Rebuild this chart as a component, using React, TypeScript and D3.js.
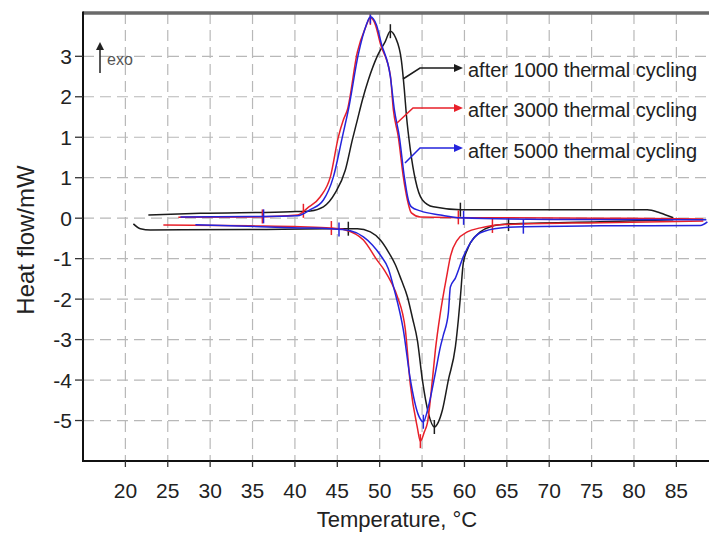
import React from 'react';
import * as d3 from 'd3';

const W = 709;
const H = 535;

const xTickValues = [20, 25, 30, 35, 40, 45, 50, 55, 60, 65, 70, 75, 80, 85];
const yTickValues = [4, 3, 2, 1, 0, -1, -2, -3, -4, -5];
const yTickLabels = ['3', '2', '1', '1', '0', '-1', '-2', '-3', '-4', '-5'];

const seriesNames = ['after 1000 thermal cycling', 'after 3000 thermal cycling', 'after 5000 thermal cycling'];
const seriesColors = ['#1c1c1c', '#e8202a', '#2424dc'];

// [Temperature °C, heat flow]
const heating1000: [number, number][] = [
  [20.94, -0.14], [21.77, -0.26], [22.95, -0.29], [34.75, -0.28], [44.18, -0.26], [47.37, -0.26],
  [48.9, -0.34], [50.08, -0.54], [51.02, -0.83], [51.85, -1.15], [52.56, -1.53], [53.27, -1.94],
  [53.86, -2.46], [54.45, -3.02], [55.04, -4.0], [55.74, -4.81], [56.45, -5.16], [56.92, -5.04],
  [57.4, -4.74], [58.1, -4.0], [58.93, -3.18], [59.28, -2.51], [59.52, -1.95], [59.87, -1.1],
  [60.34, -0.78], [60.7, -0.61], [61.88, -0.34], [63.06, -0.21], [65.42, -0.14], [76.03, -0.09],
  [84.64, -0.04],
];
const cooling1000: [number, number][] = [
  [22.71, 0.08], [28.85, 0.12], [39.46, 0.16], [41.82, 0.18], [43.36, 0.28], [44.77, 0.63],
  [45.95, 1.19], [46.78, 1.94], [47.37, 2.43], [47.96, 2.92], [48.67, 3.42], [49.73, 4.01],
  [50.67, 4.37], [51.26, 4.62], [51.85, 4.47], [52.56, 3.9], [52.91, 3.17], [53.15, 2.55],
  [53.62, 1.69], [54.21, 0.95], [55.04, 0.45], [56.33, 0.28], [59.52, 0.21], [70.13, 0.21],
  [81.58, 0.21], [83.11, 0.13], [84.64, 0.01],
];
const heating3000: [number, number][] = [
  [24.48, -0.17], [34.75, -0.19], [40.64, -0.21], [44.18, -0.24], [45.95, -0.29], [48.08, -0.54],
  [49.73, -1.05], [50.6, -1.3], [51.4, -1.6], [52.09, -1.94], [53.03, -2.76], [53.62, -4.12],
  [54.45, -5.18], [54.8, -5.51], [55.27, -5.28], [55.63, -5.06], [56.22, -3.99], [56.57, -3.26],
  [57.16, -2.34], [57.98, -1.35], [58.34, -0.95], [59.16, -0.54], [60.34, -0.34], [61.88, -0.24],
  [64.24, -0.16], [76.03, -0.11], [88.18, -0.07],
];
const cooling3000: [number, number][] = [
  [26.25, 0.02], [34.75, 0.03], [40.29, 0.08], [41.47, 0.25], [43.0, 0.53], [44.18, 1.02],
  [45.13, 2.01], [45.72, 2.43], [46.19, 2.68], [47.37, 4.11], [48.31, 4.7], [48.9, 4.95],
  [49.49, 4.78], [50.08, 4.31], [51.26, 3.52], [51.61, 2.68], [52.2, 2.01], [52.79, 1.02],
  [53.27, 0.45], [53.74, 0.13], [54.8, 0.03], [64.24, 0.01], [76.03, 0.0], [88.18, -0.02],
];
const heating5000: [number, number][] = [
  [28.26, -0.16], [35.93, -0.21], [40.64, -0.24], [44.18, -0.26], [46.54, -0.31], [48.08, -0.46],
  [49.14, -0.66], [50.08, -0.91], [51.02, -1.25], [51.7, -1.75], [52.79, -2.76], [53.62, -3.99],
  [54.56, -4.86], [55.15, -5.03], [55.74, -4.66], [56.57, -3.82], [57.16, -3.18], [57.51, -2.89],
  [58.1, -2.34], [58.34, -1.7], [58.93, -1.48], [59.87, -0.95], [60.7, -0.61], [61.88, -0.36],
  [64.24, -0.24], [66.95, -0.21], [76.03, -0.19], [87.83, -0.18], [88.66, -0.09],
];
const cooling5000: [number, number][] = [
  [26.49, 0.03], [34.75, 0.04], [40.29, 0.06], [41.82, 0.21], [43.36, 0.45], [44.54, 1.02],
  [45.6, 2.01], [46.31, 2.68], [47.49, 4.06], [48.43, 4.78], [48.9, 4.98], [49.61, 4.78],
  [50.2, 4.31], [51.26, 3.5], [51.73, 2.68], [52.32, 2.01], [52.91, 1.02], [53.38, 0.45],
  [53.74, 0.28], [54.8, 0.18], [57.16, 0.08], [59.52, 0.01], [70.13, -0.03], [88.54, -0.04],
];

const heatingCurves = [heating1000, heating3000, heating5000];
const coolingCurves = [cooling1000, cooling3000, cooling5000];

// evaluation-limit marks (temperatures)
const coolingMarks = [[51.26, 59.52], [36.16, 41.0, 48.9, 59.28], [36.3, 48.9, 59.9]];
const heatingMarks = [[46.3, 56.45, 65.2], [44.3, 54.8, 63.3], [45.2, 55.15, 66.95]];

const FONT = '"Liberation Sans", Arial, sans-serif';

function interp(data: [number, number][], t: number) {
  const i = d3.bisector((d: [number, number]) => d[0]).left(data, t);
  if (i <= 0) return data[0][1];
  if (i >= data.length) return data[data.length - 1][1];
  const a = data[i - 1], b = data[i];
  const f = (t - a[0]) / (b[0] - a[0]);
  return a[1] + f * (b[1] - a[1]);
}

export default function App() {
  const left = 83, top = 13, right = 709, bottom = 461;
  const x = d3.scaleLinear().domain([15, 88.85]).range([left, right]);
  const y = d3.scaleLinear().domain([-6, 5.07]).range([bottom, top]);
  const line = d3.line<[number, number]>().x(d => x(d[0])).y(d => y(d[1])).curve(d3.curveMonotoneX);

  const legendRows = [
    { start: [403, 79], elbow: [420, 68], baseline: 77 },
    { start: [397, 123], elbow: [413, 108], baseline: 117 },
    { start: [405, 163], elbow: [420, 148], baseline: 158 },
  ];

  return (
    <svg width={W} height={H} style={{ position: 'absolute', left: 0, top: 0, background: '#fff' }} fontFamily={FONT}>
      <rect x={0} y={0} width={W} height={H} fill="#fff" />
      <defs>
        <clipPath id="plotclip">
          <rect x={left} y={top} width={right - left} height={bottom - top} />
        </clipPath>
      </defs>
      {/* grid */}
      <g stroke="#b8b8b8" strokeWidth={1.2} strokeDasharray="11 6">
        {xTickValues.map(v => (
          <line key={'gx' + v} x1={x(v)} x2={x(v)} y1={top} y2={bottom} />
        ))}
        {yTickValues.map(v => (
          <line key={'gy' + v} x1={left} x2={right} y1={y(v)} y2={y(v)} />
        ))}
      </g>
      {/* curves */}
      <g clipPath="url(#plotclip)" fill="none" strokeWidth={1.5} strokeLinejoin="round">
        {seriesColors.map((c, i) => (
          <g key={'s' + i} stroke={c}>
            <path d={line(heatingCurves[i]) || ''} />
            <path d={line(coolingCurves[i]) || ''} />
            {coolingMarks[i].map((t, j) => {
              const yy = y(interp(coolingCurves[i], t));
              return <line key={'cm' + j} x1={x(t)} x2={x(t)} y1={yy - 7} y2={yy + 7} />;
            })}
            {heatingMarks[i].map((t, j) => {
              const yy = y(interp(heatingCurves[i], t));
              return <line key={'hm' + j} x1={x(t)} x2={x(t)} y1={yy - 7} y2={yy + 7} />;
            })}
          </g>
        ))}
      </g>
      {/* frame */}
      <line x1={left} x2={right} y1={top} y2={top} stroke="#6a6a6a" strokeWidth={3.5} />
      <line x1={left} x2={left} y1={top - 1.5} y2={bottom + 1} stroke="#111" strokeWidth={2} />
      <line x1={left - 1} x2={right} y1={bottom} y2={bottom} stroke="#111" strokeWidth={2} />
      {/* ticks */}
      <g stroke="#333" strokeWidth={1.3}>
        {yTickValues.map(v => (
          <line key={'ty' + v} x1={left - 8} x2={left} y1={y(v)} y2={y(v)} />
        ))}
        {xTickValues.map(v => (
          <line key={'tx' + v} x1={x(v)} x2={x(v)} y1={bottom} y2={bottom + 6} />
        ))}
      </g>
      <g fontSize={21} fill="#222">
        {yTickValues.map((v, i) => (
          <text key={'ly' + v} x={72} y={y(v)} dy="0.36em" textAnchor="end">{yTickLabels[i]}</text>
        ))}
        {xTickValues.map(v => (
          <text key={'lx' + v} x={x(v)} y={498} textAnchor="middle">{v}</text>
        ))}
      </g>
      <text x={397} y={527} fontSize={22} textAnchor="middle" fill="#222">Temperature, °C</text>
      <text transform="translate(34,240) rotate(-90)" fontSize={24} textAnchor="middle" fill="#222">Heat flow/mW</text>
      {/* exo arrow */}
      <line x1={100} x2={100} y1={73} y2={48} stroke="#222" strokeWidth={1.5} />
      <path d="M96,50 L100,42 L104,50 Z" fill="#222" />
      <text x={107} y={65} fontSize={16} fill="#555">exo</text>
      {/* legend */}
      {legendRows.map((r, i) => (
        <g key={'lg' + i}>
          <polyline
            points={`${r.start[0]},${r.start[1]} ${r.elbow[0]},${r.elbow[1]} 456,${r.elbow[1]}`}
            fill="none" stroke={seriesColors[i]} strokeWidth={1.5}
          />
          <path d={`M454,${r.elbow[1] - 4} L463,${r.elbow[1]} L454,${r.elbow[1] + 4} Z`} fill={seriesColors[i]} />
          <text x={468} y={r.baseline} fontSize={20} fill="#222">{seriesNames[i]}</text>
        </g>
      ))}
    </svg>
  );
}
